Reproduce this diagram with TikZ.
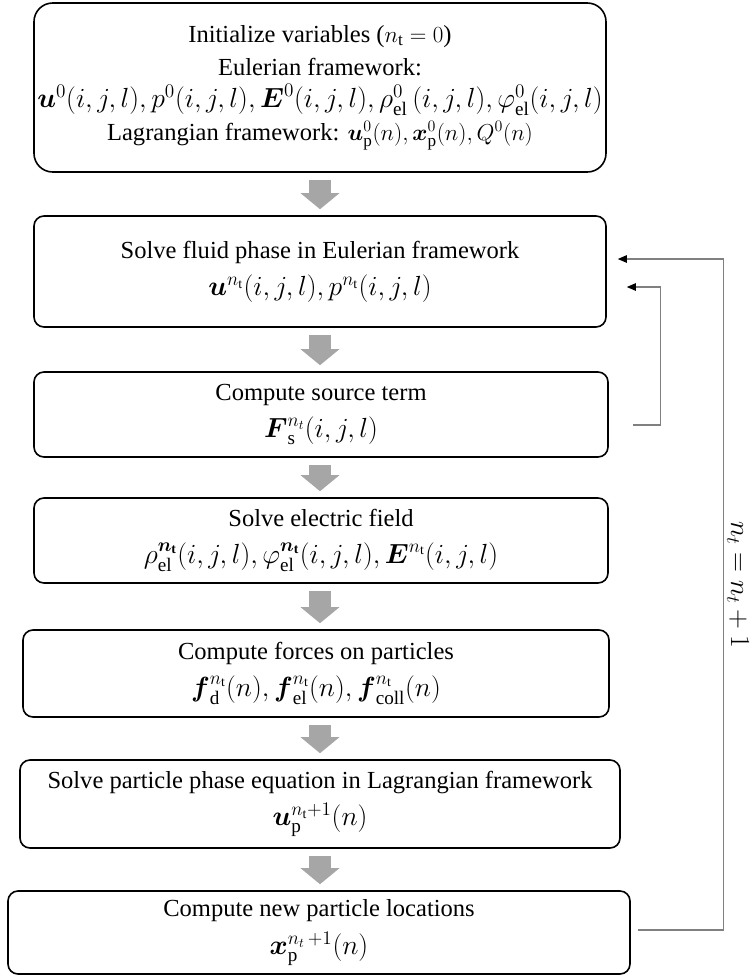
\documentclass[tikz,border=0pt]{standalone}
\usepackage{amsmath}
\usepackage{fontspec}
\setmainfont{Liberation Serif}
\usepackage{tikz}
\usetikzlibrary{arrows.meta,positioning,calc}
\definecolor{stepgray}{RGB}{166,166,166}
\definecolor{loopgray}{RGB}{128,128,128}
\newcommand{\eqline}[1]{{\fontsize{20.5}{24.5}\selectfont$#1$}}

\begin{document}
\begin{tikzpicture}[x=0.75pt, y=-0.75pt,
        every node/.append style={font=\fontsize{18.4}{28}\selectfont},
        flow/.style={draw=stepgray, line width=16.5pt, -{Triangle[length=12pt, width=28.5pt]},
          shorten <=5.25pt, shorten >=4.5pt},
        back/.style={draw=loopgray, line width=0.8pt, -{Triangle[length=6.75pt, width=5.6pt, color=black]}}]
      \tikzstyle{stage} = [draw, line width=1.2pt, rounded corners=7.5pt, align=center, inner sep=0pt]
      \useasboundingbox (0,0) rectangle (753,976);
      \node (init) [stage, rounded corners=14pt, font=\fontsize{18.4}{24.5}\selectfont,
          minimum width=429pt, minimum height=126.75pt] at (320,87.5)
        {Initialize variables ($n_{\mathrm{t}}=0$)\\
         Eulerian framework:\\
         \eqline{\boldsymbol{u}^0(i,j,l), p^0(i,j,l), \boldsymbol{E}^0(i,j,l), \rho_{\mathrm{el}}^0\,(i,j,l), \varphi_{\mathrm{el}}^0(i,j,l)}\\
         Lagrangian framework: $\boldsymbol{u}_{\mathrm{p}}^0(n), \boldsymbol{x}_{\mathrm{p}}^0(n), Q^0(n)$};
      \node (fluid) [stage, minimum width=429pt, minimum height=83.25pt] at (320,271.5)
        {Solve fluid phase in Eulerian framework\\
         \eqline{\boldsymbol{u}^{n_{\mathrm{t}}}(i,j,l), p^{n_{\mathrm{t}}}(i,j,l)}};
      \node (source) [stage, minimum width=430.5pt, minimum height=63.75pt] at (321,414.5)
        {Compute source term\\
         \eqline{\boldsymbol{F}_{\mathrm{s}}^{n_t}(i,j,l)}};
      \node (field) [stage, minimum width=430.5pt, minimum height=63.75pt] at (321,540.5)
        {Solve electric field\\
         \eqline{\rho_{\mathrm{el}}^{\boldsymbol{n_{\mathrm{t}}}}(i,j,l), \varphi_{\mathrm{el}}^{\boldsymbol{n_{\mathrm{t}}}}(i,j,l), \boldsymbol{E}^{n_{\mathrm{t}}}(i,j,l)}};
      \node (forces) [stage, minimum width=439.5pt, minimum height=65.25pt] at (316,673.5)
        {Compute forces on particles\\
         \eqline{\boldsymbol{f}_{\mathrm{d}}^{n_{\mathrm{t}}}(n), \boldsymbol{f}_{\mathrm{el}}^{n_{\mathrm{t}}}(n), \boldsymbol{f}_{\mathrm{coll}}^{n_{\mathrm{t}}}(n)}};
      \node (motion) [stage, minimum width=450pt, minimum height=66pt] at (320,804)
        {Solve particle phase equation in Lagrangian framework\\
         \eqline{\boldsymbol{u}_{\mathrm{p}}^{n_{\mathrm{t}}+1}(n)}};
      \node (locate) [stage, minimum width=466.5pt, minimum height=62.25pt] at (319,932.5)
        {Compute new particle locations\\
         \eqline{\boldsymbol{x}_{\mathrm{p}}^{n_t\,+1}(n)}};
      \draw[flow] (init.south) -- (init.south |- fluid.north);
      \draw[flow] (fluid.south) -- (fluid.south |- source.north);
      \draw[flow] (source.south -| fluid.south) -- (field.north -| fluid.south);
      \draw[flow] (field.south -| fluid.south) -- (forces.north -| fluid.south);
      \draw[flow] (forces.south -| fluid.south) -- (motion.north -| fluid.south);
      \draw[flow] (motion.south -| fluid.south) -- (locate.north -| fluid.south);
      \draw[back] ([shift={(24,10.5)}]source.east) -- ++(28,0) |- ([shift={(20,15.5)}]fluid.east);
      \draw[back] ([shift={(7,-2.5)}]locate.east) -- ++(86,0) |- ([shift={(11,-12.5)}]fluid.east);
      \node (count) [rotate=-90, inner sep=0pt, font=\fontsize{21}{24}\selectfont] at (738,585) {$n_t = n_t + 1$};
    \end{tikzpicture}
\end{document}
